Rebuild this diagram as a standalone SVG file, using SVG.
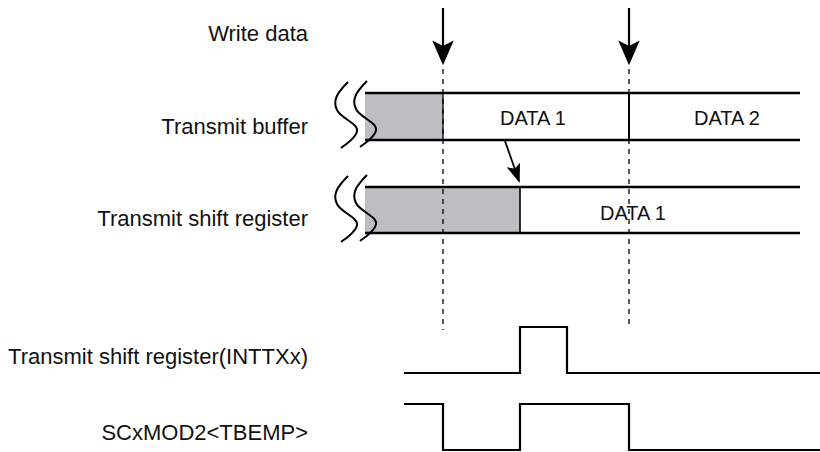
<svg xmlns="http://www.w3.org/2000/svg" width="820" height="452" viewBox="0 0 820 452">
<style>
.lbl{font-family:"Liberation Sans",Arial,sans-serif;font-size:22px;fill:#111;text-anchor:end}
.dat{font-family:"Liberation Sans",Arial,sans-serif;font-size:20px;fill:#111;text-anchor:middle}
.edge{stroke:#000;stroke-width:2.5;fill:none}
.sep{stroke:#000;stroke-width:1.3;fill:none}
.gray{fill:#bdbec1;stroke:none}
.sq{stroke:#000;stroke-width:2;fill:none}
.dash{stroke:#000;stroke-width:1.3;stroke-dasharray:5 5;fill:none}
.sig{stroke:#000;stroke-width:2.2;fill:none}
.arr{stroke:#000;stroke-width:2.2;fill:none}
</style>
<defs>
<marker id="bigHead" markerUnits="userSpaceOnUse" markerWidth="30" markerHeight="26" viewBox="-22 -12 28 24" refX="0" refY="0" orient="auto">
<path d="M3,0 L-20,-10 L-15,0 L-20,10 Z" fill="#000"/>
</marker>
<marker id="smallHead" markerUnits="userSpaceOnUse" markerWidth="24" markerHeight="20" viewBox="-18 -10 22 20" refX="0" refY="0" orient="auto">
<path d="M2,0 L-17,-7 L-13,0 L-17,7 Z" fill="#000"/>
</marker>
</defs>

<g id="labels">
<text class="lbl" x="308" y="41">Write data</text>
<text class="lbl" x="308" y="134">Transmit buffer</text>
<text class="lbl" x="308" y="226">Transmit shift register</text>
<text class="lbl" x="308" y="364">Transmit shift register(INTTXx)</text>
<text class="lbl" x="308" y="440">SCxMOD2&lt;TBEMP&gt;</text>
</g>

<g id="transmit-buffer">
<rect class="gray" x="365" y="93" width="78" height="47"/>
<line class="edge" x1="365" y1="93" x2="800" y2="93"/>
<line class="edge" x1="365" y1="140" x2="800" y2="140"/>
<line class="sep" x1="443" y1="93" x2="443" y2="140"/>
<line class="edge" x1="629" y1="93" x2="629" y2="140" style="stroke-width:2"/>
<path class="sq" d="M348,82 C338,92 332,100 337,110 C342,120 362,124 356,134 C352,141 346,144 341,148"/>
<path class="sq" d="M367,81 C357,91 351,99 356,109 C361,119 381,123 375,133 C371,140 365,143 360,147"/>
<text class="dat" x="533" y="125">DATA 1</text>
<text class="dat" x="727" y="125">DATA 2</text>
</g>

<g id="transmit-shift-register">
<rect class="gray" x="365" y="187" width="155" height="46"/>
<line class="edge" x1="365" y1="187" x2="800" y2="187"/>
<line class="edge" x1="365" y1="233" x2="800" y2="233"/>
<line class="sep" x1="520" y1="187" x2="520" y2="233" style="stroke-width:1.6"/>
<path class="sq" d="M348,176 C338,186 332,194 337,204 C342,214 362,218 356,228 C352,235 346,238 341,242"/>
<path class="sq" d="M367,175 C357,185 351,193 356,203 C361,213 381,217 375,227 C371,234 365,237 360,241"/>
<text class="dat" x="633" y="220">DATA 1</text>
</g>

<g id="inttx-signal">
<path class="sig" d="M404,373 H520 V327 H567 V373 H820"/>
</g>

<g id="tbemp-signal">
<path class="sig" d="M404,404 H443 V450 H520 V404 H629 V450 H820"/>
</g>

<g id="connectors">
<line class="arr" x1="443" y1="8" x2="443" y2="62" marker-end="url(#bigHead)"/>
<line class="arr" x1="629" y1="8" x2="629" y2="62" marker-end="url(#bigHead)"/>
<line class="dash" x1="443" y1="69" x2="443" y2="330"/>
<line class="dash" x1="629" y1="69" x2="629" y2="325"/>
<line class="arr" x1="505" y1="141" x2="519" y2="181" marker-end="url(#smallHead)" style="stroke-width:1.8"/>
</g>
</svg>
